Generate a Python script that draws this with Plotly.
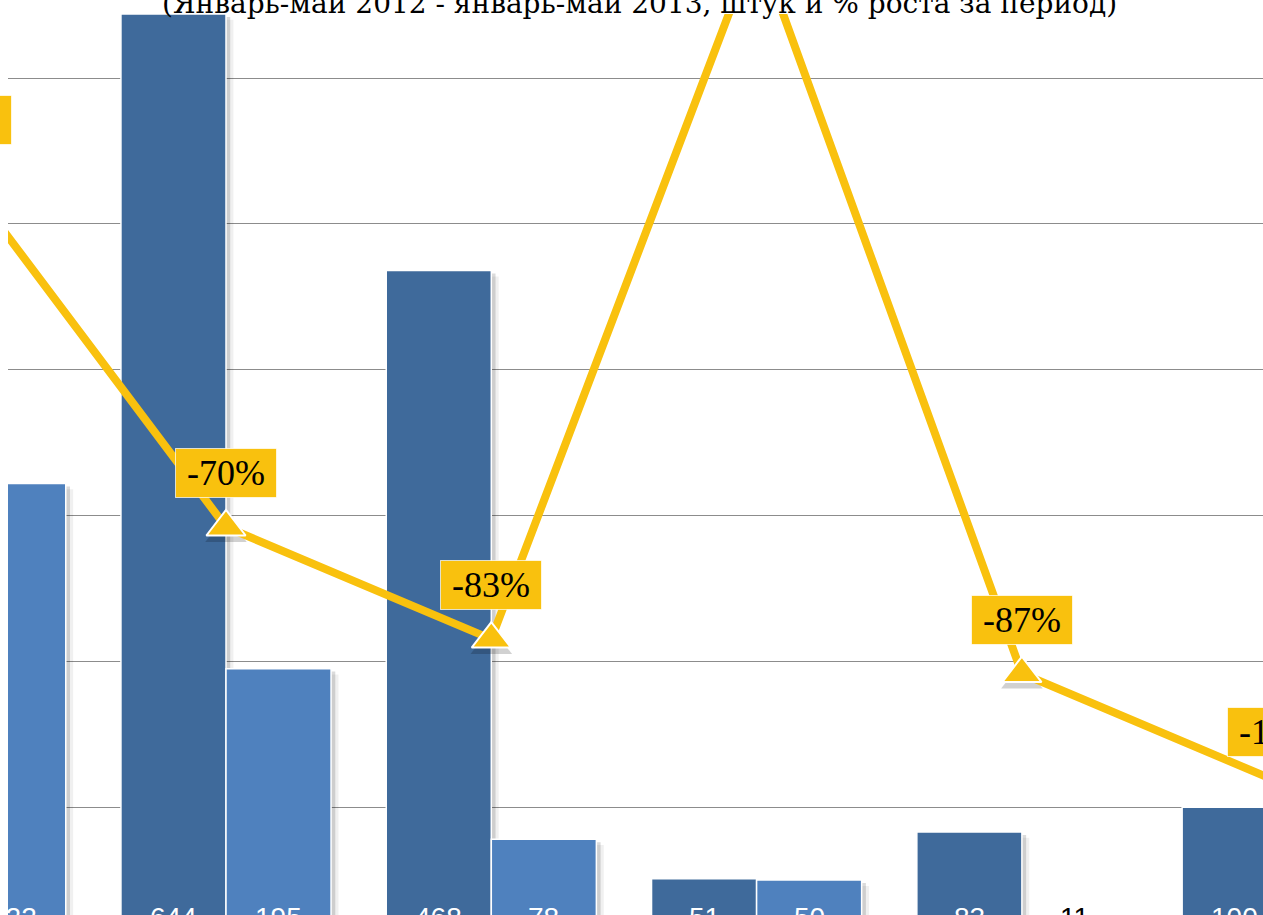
import plotly.graph_objects as go

# --- данные (январь-май 2012 / январь-май 2013) ---
vals_2012 = [454, 644, 468, 51, 83, 100]
vals_2013 = [322, 195, 78, 50, 11, 0]
growth_pct = [-29, -70, -83, -2, -87, -100]
title_text = "(Январь-май 2012 - январь-май 2013, штук и % роста за период)"

DARK = "#3F6A9B"
LIGHT = "#4F81BE"
GOLD = "#F9C10E"
BW = 0.396          # ширина столбца в долях категории
LABEL_LEVEL = 24.5  # уровень подписей у основания столбцов

W, H = 1263, 915
M_LEFT, M_TOP = 8, 14
pos = list(range(len(vals_2012)))
X_RANGE = [0.1783, 4.9088]
Y_RANGE = [26.06, 644.0]
Y2_RANGE = [-115.01, -10.49]
PX_PER_X = (W - M_LEFT) / (X_RANGE[1] - X_RANGE[0])
PX_PER_Y = (H - M_TOP) / (Y_RANGE[1] - Y_RANGE[0])


def clamp(v, rng, px_per):
    # plotly прячет аннотации вне диапазона оси: прижимаем к краю + сдвиг в пикселях
    c = min(max(v, rng[0] + 1e-6), rng[1] - 1e-6)
    return c, (v - c) * px_per


fig = go.Figure()

# тени столбцов
for vals, off in [(vals_2012, -BW), (vals_2013, 0)]:
    fig.add_trace(go.Bar(x=pos, y=[v - 4 for v in vals], offset=off + 0.028, width=BW,
                         marker=dict(color="rgba(0,0,0,0.06)", line=dict(width=0)),
                         hoverinfo="skip"))
    fig.add_trace(go.Bar(x=pos, y=[v - 2 for v in vals], offset=off + 0.016, width=BW,
                         marker=dict(color="rgba(0,0,0,0.14)", line=dict(width=0)),
                         hoverinfo="skip"))

fig.add_trace(go.Bar(x=pos, y=vals_2012, offset=-BW, width=BW, name="2012",
                     marker=dict(color=DARK, line=dict(color="white", width=1.5))))
fig.add_trace(go.Bar(x=pos, y=vals_2013, offset=0, width=BW, name="2013",
                     marker=dict(color=LIGHT, line=dict(color="white", width=1.5))))

# подписи значений у основания столбцов
for vals, dx in [(vals_2012, -BW / 2), (vals_2013, BW / 2)]:
    for p, v in zip(pos, vals):
        xa, xs = clamp(p + dx, X_RANGE, PX_PER_X)
        ya, ys = clamp(LABEL_LEVEL, Y_RANGE, PX_PER_Y)
        col = "black" if v < LABEL_LEVEL + 12 else "white"
        fig.add_annotation(x=xa, y=ya, xref="x", yref="y", xshift=xs, yshift=ys,
                           showarrow=False, text=str(v),
                           font=dict(family="Liberation Sans", size=28, color=col))

# линия роста, % (вторая ось)
fig.add_trace(go.Scatter(x=pos, y=[g - 0.7 for g in growth_pct], yaxis="y2", mode="markers",
                         marker=dict(symbol="triangle-up", size=36, color="rgba(0,0,0,0.18)"),
                         hoverinfo="skip"))
fig.add_trace(go.Scatter(x=pos, y=growth_pct, yaxis="y2", mode="lines+markers", name="% роста",
                         line=dict(color=GOLD, width=8),
                         marker=dict(symbol="triangle-up", size=34, color=GOLD,
                                     line=dict(color="white", width=2))))

for p, g in zip(pos, growth_pct):
    txt = f"{g}%"
    n_digits = sum(ch.isdigit() for ch in txt)
    xa, xs = clamp(p, X_RANGE, PX_PER_X)
    fig.add_annotation(x=xa, y=g, xref="x", yref="y2", xshift=xs, yshift=54,
                       showarrow=False, text=txt, bgcolor=GOLD,
                       bordercolor="rgba(255,255,255,0.7)", borderwidth=1, borderpad=6,
                       width=52 + 18 * n_digits, height=36,
                       font=dict(family="Liberation Serif", size=36, color="black"))

fig.add_annotation(x=0.5035, y=1, xref="paper", yref="paper", yanchor="bottom", yshift=-8,
                   showarrow=False, text=title_text,
                   font=dict(family="DejaVu Serif", size=28, color="black"))

fig.update_layout(
    width=W, height=H, margin=dict(l=M_LEFT, r=0, t=M_TOP, b=0),
    barmode="overlay", showlegend=False,
    paper_bgcolor="white", plot_bgcolor="white",
    xaxis=dict(range=X_RANGE, showticklabels=False, showgrid=False,
               zeroline=False, fixedrange=True),
    yaxis=dict(range=Y_RANGE, tick0=0, dtick=100, showticklabels=False,
               gridcolor="#8c8c8c", gridwidth=1.3, zeroline=False, fixedrange=True),
    yaxis2=dict(range=Y2_RANGE, overlaying="y", side="right",
                showticklabels=False, showgrid=False, zeroline=False, fixedrange=True),
)

fig.write_html("out.html", config={"displayModeBar": False},
               post_script="document.body.style.margin='0';")
